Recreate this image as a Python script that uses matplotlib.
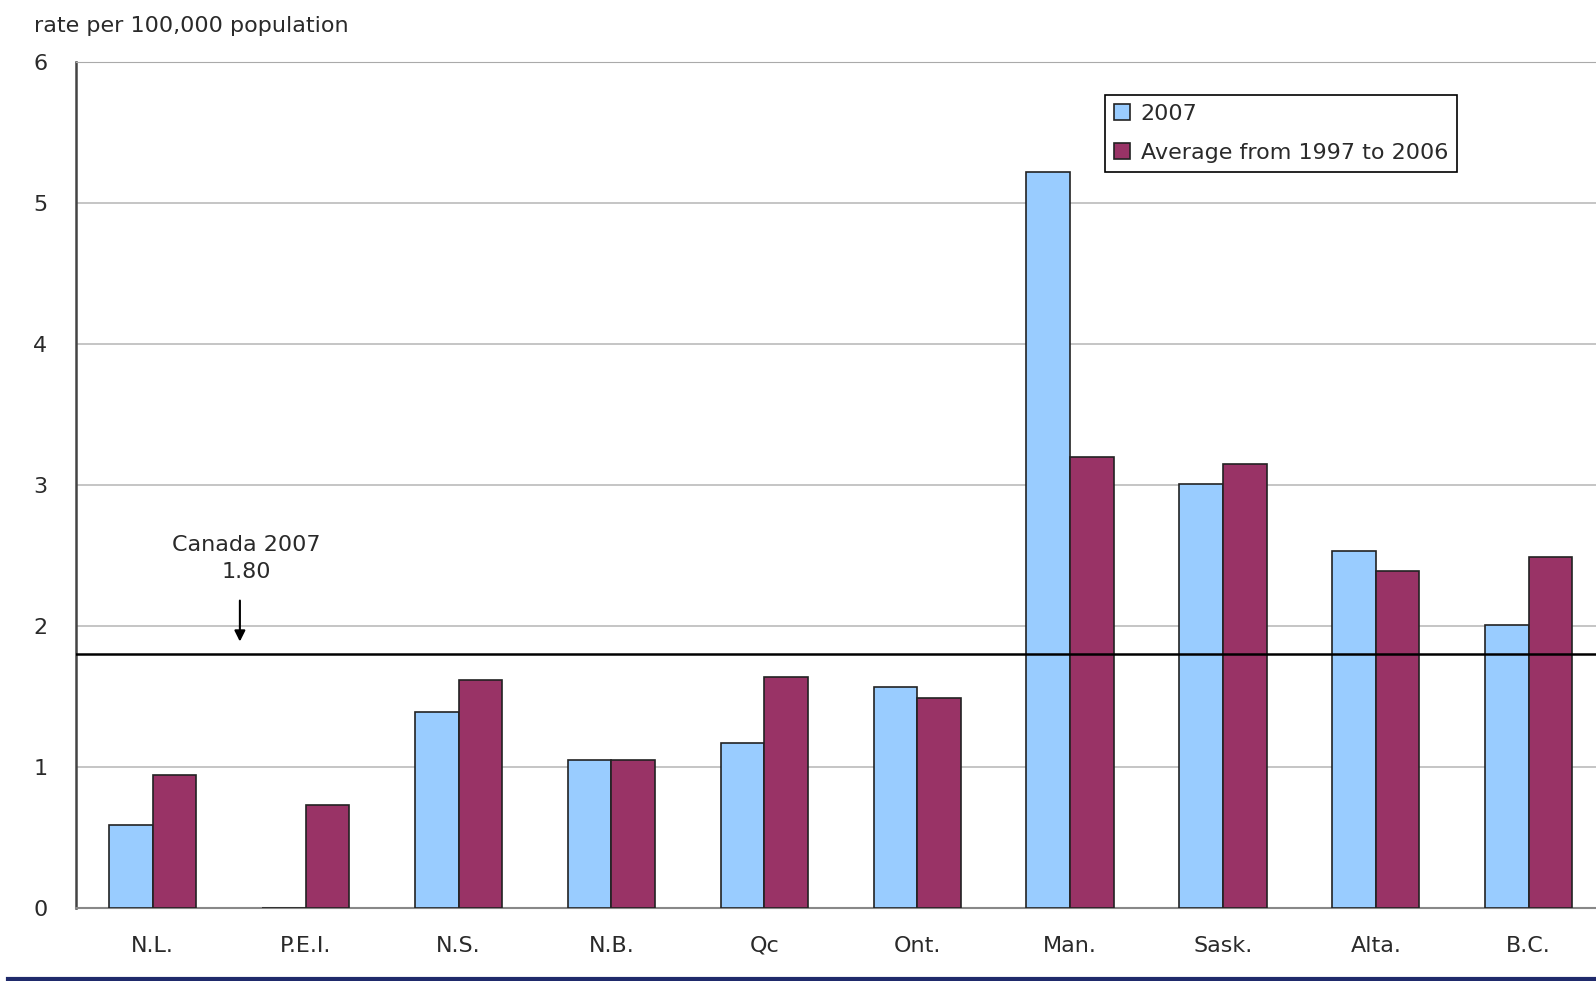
from matplotlib import pyplot as plt
from matplotlib.lines import Line2D
import numpy as np

provinces = ['N.L.', 'P.E.I.', 'N.S.', 'N.B.', 'Qc', 'Ont.', 'Man.', 'Sask.', 'Alta.', 'B.C.']
rate_2007 = [0.59, 0.0, 1.39, 1.05, 1.17, 1.57, 5.22, 3.01, 2.53, 2.01]
rate_avg = [0.94, 0.73, 1.62, 1.05, 1.64, 1.49, 3.20, 3.15, 2.39, 2.49]
canada_2007 = 1.80

plt.rcParams['font.family'] = ['DejaVu Sans']
txt_color = '#2a2a2a'
fs = 16

fig = plt.figure(figsize=(15.96, 9.81), dpi=100)
ax = fig.add_axes([76.3 / 1596, 1 - 908 / 981, 1 - 76.3 / 1596, (908 - 62) / 981])

x = np.arange(len(provinces))
w = 0.285
ax.bar(x - w / 2, rate_2007, w, color='#99CCFF', edgecolor='#222222', lw=1.2,
       label='2007', zorder=3)
ax.bar(x + w / 2, rate_avg, w, color='#993366', edgecolor='#222222', lw=1.2,
       label='Average from 1997 to 2006', zorder=3)

ax.axhline(canada_2007, color='black', lw=1.8, zorder=4)
ax.annotate('', xy=(0.57, 1.87), xytext=(0.57, 2.2),
            arrowprops=dict(arrowstyle='-|>', color='black', lw=1.5, mutation_scale=16))
ax.text(0.61, 2.48, 'Canada 2007\n1.80', ha='center', va='center', fontsize=fs,
        color=txt_color, linespacing=1.4)

ax.set_xlim(-0.5, 9.44)
ax.set_ylim(0, 6)
ax.set_yticks(range(7))
ax.set_xticks(x)
ax.set_xticklabels(provinces)
ax.tick_params(axis='y', length=0, pad=26, labelsize=fs, labelcolor=txt_color)
ax.tick_params(axis='x', length=0, pad=20, labelsize=fs, labelcolor=txt_color)
for t in ax.get_yticklabels():
    t.set_horizontalalignment('center')

ax.grid(axis='y', color='#BBBBBB', lw=1.2, zorder=0)
ax.set_axisbelow(True)
ax.spines['right'].set_visible(False)
ax.spines['top'].set_color('#AAAAAA')
ax.spines['left'].set_color('#444444')
ax.spines['left'].set_linewidth(1.8)
ax.spines['bottom'].set_color('#888888')
ax.spines['bottom'].set_linewidth(1.5)

leg = ax.legend(loc='upper left', bbox_to_anchor=(0.677, 0.961), borderaxespad=0,
                fancybox=False, framealpha=1, edgecolor='black', fontsize=fs,
                handlelength=0.7, handleheight=0.7, handletextpad=0.5,
                labelspacing=0.85, borderpad=0.4)
leg.get_frame().set_linewidth(1.2)
for t in leg.get_texts():
    t.set_color(txt_color)

fig.text(33.6 / 1596, 1 - 26 / 981, 'rate per 100,000 population', ha='left',
         va='center', fontsize=fs, color=txt_color)

fig.add_artist(Line2D([0.005, 1], [2.5 / 981, 2.5 / 981], transform=fig.transFigure,
                      color='#1F2A6B', lw=3))

plt.savefig('out.png', dpi=100)
